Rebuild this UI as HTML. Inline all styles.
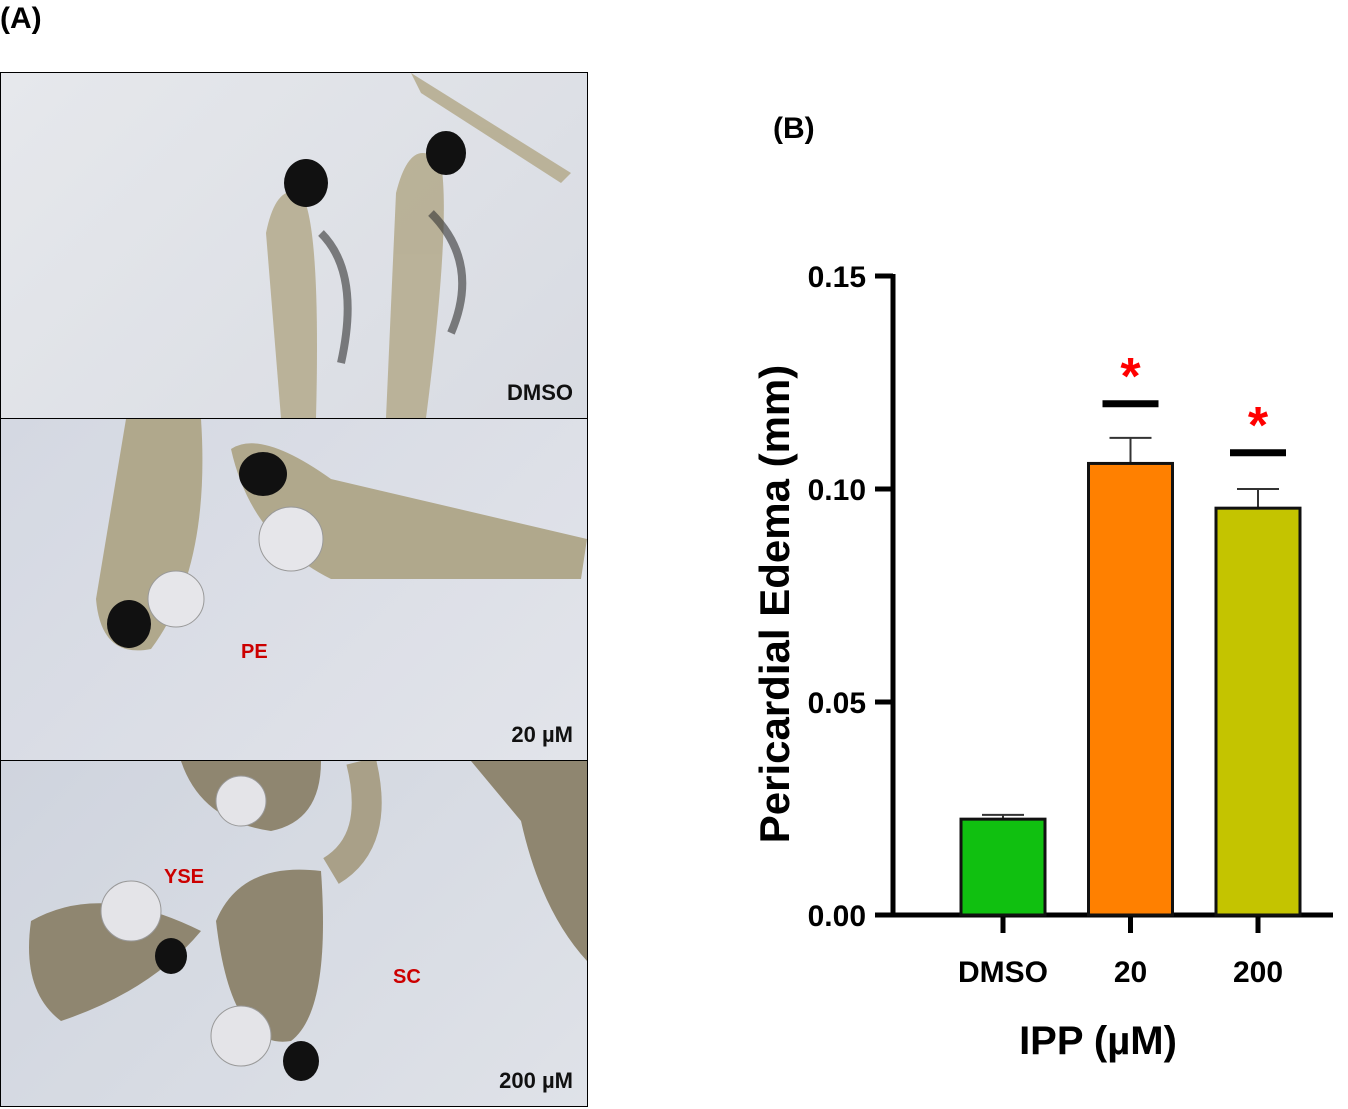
<!DOCTYPE html>
<html><head><meta charset="utf-8"><style>
body{margin:0;width:1348px;height:1109px;background:#fff;position:relative;overflow:hidden;font-family:"Liberation Sans",Arial,sans-serif}
.lbl{position:absolute;font-weight:bold;color:#000}
.panel{position:absolute;left:0;width:586px;border:1px solid #000;overflow:hidden}
.plab{position:absolute;right:14px;bottom:12px;font-weight:bold;font-size:22px;color:#111}
.red{position:absolute;color:#c00;font-weight:bold;font-size:20px}
</style></head><body>
<div class="lbl" style="left:0;top:2px;font-size:30px">(A)</div>
<div class="lbl" style="left:773px;top:112px;font-size:30px">(B)</div>

<div class="panel" style="top:72px;height:345px;background:linear-gradient(135deg,#e6e8ec,#d8dbe2)">
<svg width="586" height="345"><g fill="#b6ad90" opacity=".9"><path d="M265 160 Q275 110 300 120 Q320 150 315 345 L280 345 Z"/><path d="M395 120 Q410 60 440 90 Q450 150 425 345 L385 345 Z"/><path d="M410 0 L570 100 L560 110 L420 20 Z"/></g><ellipse cx="305" cy="110" rx="22" ry="24" fill="#111"/><ellipse cx="445" cy="80" rx="20" ry="22" fill="#111"/><path d="M320 160 Q360 200 340 290" stroke="#333" stroke-width="8" fill="none" opacity=".6"/><path d="M430 140 Q480 190 450 260" stroke="#333" stroke-width="8" fill="none" opacity=".6"/></svg>
<div class="plab">DMSO</div></div>

<div class="panel" style="top:418px;height:341px;background:linear-gradient(135deg,#d4d8e2,#e2e4ea)">
<svg width="586" height="341"><g fill="#b0a88c"><path d="M125 0 L200 0 Q210 150 150 230 Q100 240 95 180 Z"/><path d="M230 30 Q260 10 330 60 L586 120 L580 160 L330 160 Q250 120 230 30Z"/></g><circle cx="175" cy="180" r="28" fill="#e6e6ea" stroke="#999"/><circle cx="290" cy="120" r="32" fill="#e6e6ea" stroke="#999"/><ellipse cx="128" cy="205" rx="22" ry="24" fill="#111"/><ellipse cx="262" cy="55" rx="24" ry="22" fill="#111"/></svg>
<div class="red" style="left:240px;top:222px">PE</div>
<div class="plab">20 µM</div></div>

<div class="panel" style="top:760px;height:345px;background:linear-gradient(135deg,#cfd4de,#dfe2e8)">
<svg width="586" height="345"><g fill="#8f8670"><path d="M215 160 Q240 100 320 110 Q330 250 290 280 Q230 290 215 160Z"/><path d="M30 160 Q100 120 200 170 Q150 230 60 260 Q20 230 30 160Z"/><path d="M180 0 L320 0 Q320 60 270 70 Q200 60 180 0Z"/><path d="M470 0 L586 0 L586 200 Q540 150 520 60Z"/></g><path d="M330 110 Q380 80 360 0" stroke="#a9a088" stroke-width="30" fill="none"/><circle cx="240" cy="275" r="30" fill="#e4e4e8" stroke="#999"/><circle cx="130" cy="150" r="30" fill="#e4e4e8" stroke="#999"/><circle cx="240" cy="40" r="25" fill="#e4e4e8" stroke="#999"/><ellipse cx="170" cy="195" rx="16" ry="18" fill="#111"/><ellipse cx="300" cy="300" rx="18" ry="20" fill="#111"/></svg>
<div class="red" style="left:163px;top:105px">YSE</div>
<div class="red" style="left:392px;top:205px">SC</div>
<div class="plab">200 µM</div></div>

<svg id="chart" width="1348" height="1109" style="position:absolute;left:0;top:0"></svg>
<script>
const categories=["DMSO","20","200"];
const means=[0.0225,0.106,0.0955];
const errors=[0.001,0.006,0.0045];
const colors=["#10c010","#ff8000","#c4c400"];
const sig=[false,true,true];
const sigLevels=[0,0.120,0.1085];
const ticks=[0,0.05,0.10,0.15];
const tickLabels=["0.00","0.05","0.10","0.15"];
const svg=document.getElementById('chart');
const NS="http://www.w3.org/2000/svg";
const y=v=>915-v*4260;
const xc=i=>1003+i*127.5;
const bw=84;
function mk(t,a){const e=document.createElementNS(NS,t);for(const k in a)e.setAttribute(k,a[k]);svg.appendChild(e);return e;}
let ax=mk('line',{x1:893,y1:y(0.15)-2,x2:893,y2:917,stroke:'#000','stroke-width':5});


let xa=mk('line',{x1:891,y1:915,x2:1333,y2:915,stroke:'#000','stroke-width':5});


ticks.forEach((t,i)=>{
 let tk=mk('line',{x1:875,y1:y(t),x2:893,y2:y(t),stroke:'#000','stroke-width':5});
 
 
 let tl=mk('text',{x:866,y:y(t)+11,'text-anchor':'end','font-size':30,'font-weight':'bold','font-family':'Liberation Sans, sans-serif'});
 tl.textContent=tickLabels[i];
 
 
});
categories.forEach((c,i)=>{
 const cx=xc(i);
 let tk=mk('line',{x1:cx,y1:915,x2:cx,y2:933,stroke:'#000','stroke-width':5});
 
 
 let eb=mk('line',{x1:cx,y1:y(means[i]+errors[i]),x2:cx,y2:y(means[i]),stroke:'#333','stroke-width':2});
 
 
 let ec=mk('line',{x1:cx-21,y1:y(means[i]+errors[i]),x2:cx+21,y2:y(means[i]+errors[i]),stroke:'#333','stroke-width':2});
 
 
 let b=mk('rect',{x:cx-bw/2,y:y(means[i]),width:bw,height:915-y(means[i]),fill:colors[i],stroke:'#111','stroke-width':3});
 
 
 let l=mk('text',{x:cx,y:982,'text-anchor':'middle','font-size':30,'font-weight':'bold','font-family':'Liberation Sans, sans-serif'});
 l.textContent=c;
 
 
 if(sig[i]){
  let s=mk('line',{x1:cx-28,y1:y(sigLevels[i]),x2:cx+28,y2:y(sigLevels[i]),stroke:'#000','stroke-width':7});
  
  
  let a=mk('text',{x:cx,y:y(sigLevels[i])-10,'text-anchor':'middle','font-size':52,'font-weight':'bold',fill:'#f00','font-family':'Liberation Sans, sans-serif'});
  a.textContent='*';
  
  
 }
});
let xt=mk('text',{x:1098,y:1054,'text-anchor':'middle','font-size':40,'font-weight':'bold','font-family':'Liberation Sans, sans-serif'});
xt.textContent='IPP (µM)';


let yt=mk('text',{x:0,y:0,'text-anchor':'middle','font-size':42,'font-weight':'bold','font-family':'Liberation Sans, sans-serif',transform:'translate(789,604) rotate(-90)'});
yt.textContent='Pericardial Edema (mm)';


</script>
</body></html>
